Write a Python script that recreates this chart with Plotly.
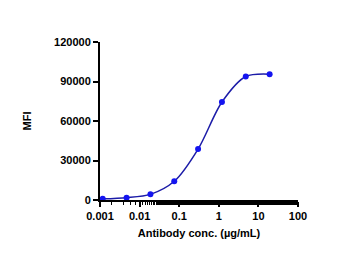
import plotly.graph_objects as go

conc = [0.00117, 0.00469, 0.01875, 0.075, 0.3, 1.2, 4.8, 19.2]
mfi = [900, 1800, 4300, 14200, 38700, 74400, 93800, 95600]

x_tickvals = [0.001, 0.01, 0.1, 1, 10, 100]
x_ticktext = ["0.001", "0.01", "0.1", "1", "10", "100"]
y_tickvals = [0, 30000, 60000, 90000, 120000]

fig = go.Figure()
fig.add_trace(go.Scatter(
    x=conc, y=mfi, mode="lines+markers",
    line=dict(color="#1c1ca8", width=1.5, shape="spline", smoothing=0.85),
    marker=dict(color="#1414f0", size=6, symbol="circle"),
    showlegend=False,
))

font_b = dict(family="Liberation Sans, Arial", size=11, color="black", weight="bold")

fig.update_layout(
    width=350, height=272,
    margin=dict(l=100, r=52, t=42, b=72),
    paper_bgcolor="white", plot_bgcolor="white",
    xaxis=dict(
        type="log", range=[-3, 2],
        tickvals=x_tickvals, ticktext=x_ticktext,
        ticks="outside", ticklen=5, tickwidth=1.5, tickcolor="black",
        showline=True, linecolor="black", linewidth=2,
        showgrid=False, zeroline=False,
        tickfont=font_b,
        minor=dict(ticks="outside", ticklen=3, tickwidth=1, tickcolor="black", showgrid=False),
        title=dict(text="Antibody conc. (µg/mL)", font=font_b, standoff=8),
    ),
    yaxis=dict(
        range=[0, 120000],
        tickvals=y_tickvals, ticktext=[str(v) for v in y_tickvals],
        ticks="outside", ticklen=5, tickwidth=1.5, tickcolor="black",
        showline=True, linecolor="black", linewidth=2,
        showgrid=False, zeroline=False,
        tickfont=font_b,
        title=dict(text="MFI", font=font_b, standoff=20),
    ),
)

fig.write_html("out.html")
